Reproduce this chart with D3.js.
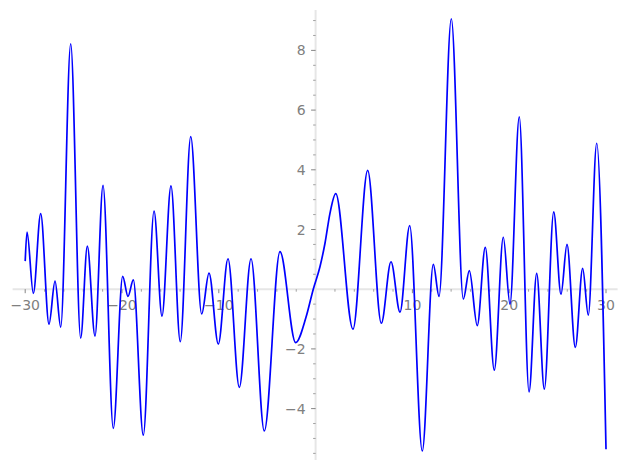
<!DOCTYPE html>
<html>
<head>
<meta charset="utf-8">
<script src="https://cdn.jsdelivr.net/npm/d3@7"></script>
<style>
html,body{margin:0;padding:0;background:#fff;}
svg{display:block;}
</style>
</head>
<body>
<svg id="chart" width="627" height="470"></svg>
<script>
// Curve samples (mostly the turning points)
const xs = [-30.0,-29.81,-29.16,-28.40,-27.54,-26.92,-26.33,-25.30,-24.27,-23.58,-22.79,-21.96,-20.90,-19.93,-19.38,-18.83,-17.80,-16.69,-15.87,-14.94,-13.98,-12.90,-11.77,-11.01,-10.05,-9.05,-7.88,-6.67,-5.30,-3.68,-2.06,-1.0,-0.24,0.45,0.97,1.49,2.08,3.86,5.38,6.79,7.79,8.72,9.72,11.02,12.16,12.75,14.02,15.26,15.88,16.70,17.53,18.46,19.39,20.08,21.04,22.05,22.84,23.63,24.60,25.35,25.97,26.83,27.59,28.17,29.04,30.0];
const ys = [0.94,1.91,-0.14,2.53,-1.17,0.27,-1.27,8.22,-1.64,1.44,-1.57,3.48,-4.66,0.43,-0.24,0.31,-4.89,2.62,-0.90,3.46,-1.76,5.11,-0.83,0.54,-1.84,1.02,-3.29,1.02,-4.75,1.26,-1.79,-0.95,0.0,0.75,1.54,2.55,3.20,-1.34,3.98,-1.14,0.92,-0.77,2.13,-5.42,0.83,-0.24,9.06,-0.33,0.62,-1.22,1.40,-2.71,1.74,-0.50,5.77,-3.44,0.53,-3.35,2.59,-0.17,1.50,-1.95,0.70,-0.87,4.89,-5.36];
const xMajorTicks = [-30,-20,-10,10,20,30];
const xMinorTicks = [-28,-26,-24,-22,-18,-16,-14,-12,-8,-6,-4,-2,2,4,6,8,12,14,16,18,22,24,26,28];
const yMajorTicks = [-4,-2,2,4,6,8];
const yMinorTicks = [-5.5,-5,-4.5,-3.5,-3,-2.5,-1.5,-1,-0.5,0.5,1,1.5,2.5,3,3.5,4.5,5,5.5,6.5,7,7.5,8.5,9];

const svg = d3.select("#chart");
const xScale = d3.scaleLinear().domain([-30,30]).range([25.2,606.0]);
const yScale = d3.scaleLinear().domain([0,8]).range([289.2,50.4]);

const axisColor = "#e6e6e6";
const tickColor = "#666";
const labelColor = "#808080";
const font = "DejaVu Sans, sans-serif";

// axis lines
svg.append("line").attr("x1", xScale(-31.3)).attr("x2", xScale(31.2))
  .attr("y1", yScale(0)).attr("y2", yScale(0))
  .attr("stroke", axisColor).attr("stroke-width", 2);
svg.append("line").attr("x1", xScale(0)).attr("x2", xScale(0))
  .attr("y1", yScale(9.35)).attr("y2", yScale(-5.72))
  .attr("stroke", axisColor).attr("stroke-width", 2);

// x ticks
const y0 = yScale(0);
svg.selectAll(".xmaj").data(xMajorTicks).enter().append("line")
  .attr("x1", d => xScale(d)).attr("x2", d => xScale(d))
  .attr("y1", y0).attr("y2", y0 + 4)
  .attr("stroke", tickColor).attr("stroke-width", 0.8);
svg.selectAll(".xmin").data(xMinorTicks).enter().append("line")
  .attr("x1", d => xScale(d)).attr("x2", d => xScale(d))
  .attr("y1", y0).attr("y2", y0 + 2.5)
  .attr("stroke", tickColor).attr("stroke-width", 0.6);
svg.selectAll(".xlab").data(xMajorTicks).enter().append("text")
  .attr("x", d => xScale(d)).attr("y", y0 + 21)
  .attr("text-anchor", "middle").attr("font-family", font).attr("font-size", 14)
  .attr("fill", labelColor)
  .text(d => d < 0 ? "\u2212" + Math.abs(d) : String(d));

// y ticks
const x0 = xScale(0);
svg.selectAll(".ymaj").data(yMajorTicks).enter().append("line")
  .attr("x1", x0 - 4.5).attr("x2", x0)
  .attr("y1", d => yScale(d)).attr("y2", d => yScale(d))
  .attr("stroke", tickColor).attr("stroke-width", 0.8);
svg.selectAll(".ymin").data(yMinorTicks).enter().append("line")
  .attr("x1", x0 - 2.5).attr("x2", x0)
  .attr("y1", d => yScale(d)).attr("y2", d => yScale(d))
  .attr("stroke", tickColor).attr("stroke-width", 0.6);
svg.selectAll(".ylab").data(yMajorTicks).enter().append("text")
  .attr("x", x0 - 10).attr("y", d => yScale(d) + 5)
  .attr("text-anchor", "end").attr("font-family", font).attr("font-size", 14)
  .attr("fill", labelColor)
  .text(d => d < 0 ? "\u2212" + Math.abs(d) : String(d));

// curve
const pts = xs.map((x, i) => [x, ys[i]]);
const line = d3.line().x(d => xScale(d[0])).y(d => yScale(d[1])).curve(d3.curveMonotoneX);
svg.append("path").attr("d", line(pts))
  .attr("fill", "none").attr("stroke", "#0000ff").attr("stroke-width", 1.7)
  .attr("stroke-linejoin", "round");
</script>
</body>
</html>
